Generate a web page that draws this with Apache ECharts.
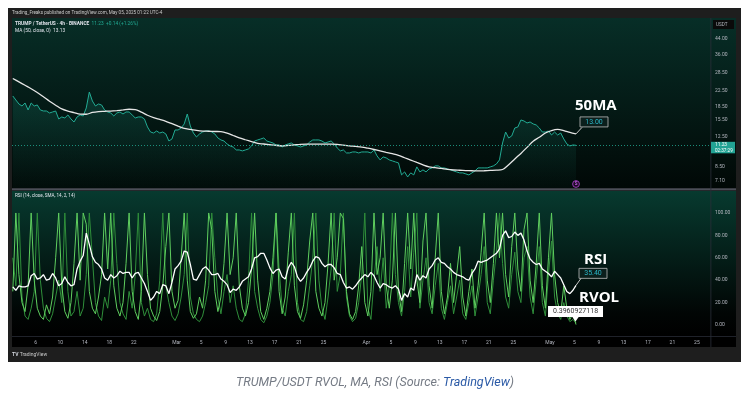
<!DOCTYPE html>
<html><head><meta charset="utf-8">
<script src="https://cdn.jsdelivr.net/npm/echarts@6/dist/echarts.min.js"></script>
<style>html,body{margin:0;padding:0;background:#fff}#c{width:751px;height:395px}</style>
</head><body><div id="c"></div>
<script>
// ---- data (4h chart, sampled every 12h; x = days after 2025-02-01 00:00 UTC) ----
const startDay = 1.25;
const stepDay = 0.5;
const maStepDay = 1;
const priceValues = [21.16,20.10,19.09,18.61,19.34,17.68,19.34,18.61,18.85,17.68,
17.45,17.45,17.01,17.23,17.45,15.75,16.16,15.95,16.58,15.75,
15.15,16.16,16.58,16.37,18.14,22.27,19.84,18.61,19.09,18.85,
17.68,17.23,17.01,16.37,17.01,17.23,16.79,17.23,17.23,16.58,
15.95,16.16,16.16,15.75,14.21,13.32,13.15,13.50,13.15,13.32,
12.99,11.87,12.18,13.67,13.67,14.03,14.77,16.79,14.39,13.15,
12.50,12.99,13.32,13.50,13.50,13.32,12.99,12.34,12.03,11.87,
11.43,11.14,10.99,10.58,10.58,10.45,10.58,10.72,11.14,11.87,
12.03,12.18,12.34,11.87,11.72,11.57,11.28,11.28,10.99,11.28,
11.43,11.57,11.28,11.14,10.99,11.14,11.28,11.72,12.03,12.03,
12.03,11.87,11.57,11.72,11.87,11.43,10.85,10.45,10.58,10.18,
10.18,10.31,10.31,10.18,10.31,10.31,10.31,10.18,10.58,9.80,
9.31,9.67,9.55,9.31,9.19,9.07,8.96,7.68,7.98,7.48,
7.88,7.68,8.51,7.98,8.19,7.98,8.29,8.40,8.62,8.62,
8.40,8.40,8.29,8.19,8.08,7.98,7.88,7.88,7.78,7.68,
7.88,8.08,8.40,8.40,8.40,8.40,8.51,8.62,8.84,9.31,
11.57,13.32,12.34,12.66,14.03,14.21,15.55,15.35,14.96,15.15,
14.77,14.58,14.03,13.32,13.32,13.50,12.82,13.32,12.82,13.15,
12.18,11.43,11.14,11.28,11.23];
const ma50Values = [26.49,25.36,24.27,23.23,22.13,20.94,19.77,18.80,17.91,17.43,
17.08,16.75,16.73,17.12,17.32,17.38,17.43,17.54,17.68,17.84,
17.77,17.19,16.52,16.01,15.65,15.29,14.83,14.37,13.94,13.78,
13.60,13.48,13.45,13.41,13.39,13.15,12.74,12.36,12.06,11.78,
11.51,11.42,11.31,11.21,11.15,11.21,11.29,11.37,11.39,11.39,
11.39,11.39,11.39,11.36,11.25,11.15,11.07,10.98,10.82,10.64,
10.45,10.26,10.08,9.87,9.57,9.29,9.01,8.74,8.52,8.42,
8.34,8.24,8.18,8.15,8.12,8.10,8.08,8.10,8.13,8.16,
8.23,8.76,9.43,10.12,10.94,11.83,12.45,13.15,13.58,13.78,
13.58,13.26,13.00];
const rsiValues = [34,31,35,34,34,35,44,46,41,42,
45,40,41,46,42,35,37,43,38,35,
36,50,57,62,82,72,61,56,54,50,
42,40,45,42,44,48,46,47,47,42,
46,47,42,37,30,22,25,30,28,36,
35,28,38,50,53,57,66,65,54,41,
40,45,50,52,49,45,45,46,41,39,
36,29,32,31,34,39,41,43,50,60,
61,64,64,58,51,46,49,50,43,41,
51,56,52,43,39,42,47,51,57,61,
60,55,52,54,54,51,46,45,38,33,
34,32,35,39,42,45,43,47,44,38,
33,37,36,34,33,35,32,22,28,25,
33,31,45,40,44,42,50,53,58,60,
56,55,52,50,47,45,44,43,41,40,
46,50,57,56,57,58,60,62,64,68,
80,84,78,79,83,80,82,76,66,59,
56,54,55,50,48,46,43,48,45,42,
36,30,28,31,35.40];
const rvolValues = [30,100,45,20,12,35,100,40,15,8,
5,18,10,25,60,100,35,12,6,20,
55,100,40,100,90,30,15,10,25,45,
100,50,100,35,15,8,20,55,100,30,
12,5,30,100,45,15,8,4,12,35,
70,100,30,15,22,60,100,40,12,6,
10,25,15,40,100,85,30,12,25,55,
100,45,60,100,35,15,8,20,50,100,
40,12,5,15,30,60,100,30,10,25,
65,100,35,12,6,18,40,75,100,30,
15,8,20,55,100,40,60,100,95,30,
10,5,12,35,70,20,8,30,100,45,
60,100,35,15,40,100,30,12,55,100,
50,100,40,20,75,100,35,15,60,100,
30,10,25,55,20,45,70,25,8,30,
50,15,35,65,100,40,20,55,100,60,
100,45,25,70,100,50,30,85,100,40,
20,55,100,35,15,60,100,45,20,10,
35,15,5,10,0.3960927118];
const rvolAltValues = [60,35,100,25,8,5,15,30,100,40,
15,6,3,10,25,40,20,100,30,8,
12,30,8,15,45,100,60,20,8,4,
25,15,40,100,55,20,10,5,30,15,
45,100,20,8,15,5,3,10,40,100,
35,20,8,4,10,25,45,100,25,10,
5,3,8,20,35,100,60,25,10,30,
45,20,35,15,5,3,10,40,100,30,
15,5,2,8,20,45,100,50,15,8,
30,45,100,20,5,3,12,35,60,100,
40,15,5,25,50,100,30,45,100,25,
8,3,6,20,45,100,15,5,40,70,
30,60,15,35,100,45,20,8,30,70,
25,65,100,15,40,60,20,10,35,55,
15,5,20,35,10,25,40,10,5,20,
35,8,25,45,70,20,10,40,65,100,
55,25,15,45,65,30,20,60,70,25,
10,40,70,20,8,45,75,25,10,5,
20,8,3,5,2];
const priceTicks = [7.10, 8.50, 12.50, 15.50, 18.50, 22.50, 28.50, 36.00, 44.00];
const rsiTicks = [0, 20, 40, 60, 80, 100];
const dateTicks = ['2025-02-06','2025-02-10','2025-02-14','2025-02-18','2025-02-22',
  '2025-03-01','2025-03-05','2025-03-09','2025-03-13','2025-03-17','2025-03-21','2025-03-25',
  '2025-04-01','2025-04-05','2025-04-09','2025-04-13','2025-04-17','2025-04-21','2025-04-25',
  '2025-05-01','2025-05-05','2025-05-09','2025-05-13','2025-05-17','2025-05-21','2025-05-25'];
const lastPrice = 11.23;
const maLabel = '13.00';
const rsiLabel = '35.40';
const rvolLabel = '0.3960927118';

// ---- helpers ----
const epoch = Date.UTC(2025, 1, 1);
const dayMs = 86400000;
const toDay = s => (Date.parse(s + 'T00:00:00Z') - epoch) / dayMs;
const pairs = (vals, step) => vals.map((v, i) => [startDay + i * step, v]);
const monthNames = ['Jan','Feb','Mar','Apr','May','Jun'];
function fmtDate(v) {
  const d = new Date(epoch + Math.round(v) * dayMs);
  return d.getUTCDate() === 1 ? monthNames[d.getUTCMonth()] : String(d.getUTCDate());
}
const xMin = 1.12, xMax = 115.3;
const axisTxt = '#b2b5be';
const SF = 'Roboto';

const chart = echarts.init(document.getElementById('c'), null, {width: 751, height: 395});
const hidden = {axisLine:{show:false}, axisTick:{show:false}, splitLine:{show:false}};
chart.setOption({
  animation: false,
  backgroundColor: '#ffffff',
  grid: [
    {left: 12, right: 40, top: 18, height: 170},
    {left: 12, right: 40, top: 191, height: 145}
  ],
  xAxis: [
    Object.assign({gridIndex: 0, type: 'value', min: xMin, max: xMax, axisLabel: {show: false}}, hidden),
    Object.assign({gridIndex: 1, type: 'value', min: xMin, max: xMax,
      axisLabel: {customValues: dateTicks.map(toDay), formatter: fmtDate, color: axisTxt,
        fontSize: 5, fontFamily: SF, margin: 4}}, hidden)
  ],
  yAxis: [
    Object.assign({gridIndex: 0, type: 'log', position: 'right', min: 6.49, max: 57.6,
      axisLabel: {customValues: priceTicks, formatter: v => Number(v).toFixed(2), color: axisTxt,
        fontSize: 5, fontFamily: SF, margin: 4, align: 'left'}}, hidden),
    Object.assign({gridIndex: 1, type: 'value', position: 'right', min: -9.8, max: 119.6,
      axisLabel: {customValues: rsiTicks, formatter: v => Number(v).toFixed(2), color: axisTxt,
        fontSize: 5, fontFamily: SF, margin: 4, align: 'left'}}, hidden)
  ],
  series: [
    {name: 'TRUMP/USDT', type: 'line', xAxisIndex: 0, yAxisIndex: 0, showSymbol: false,
      data: pairs(priceValues, stepDay), lineStyle: {color: '#22ab94', width: 1},
      areaStyle: {origin: 'start', color: new echarts.graphic.LinearGradient(0, 0, 0, 1, [
        {offset: 0, color: 'rgba(34,171,148,0.28)'}, {offset: 1, color: 'rgba(34,171,148,0.04)'}])},
      markLine: {silent: true, symbol: 'none', animation: false, label: {show: false},
        lineStyle: {color: '#22ab94', type: [1, 2], width: 0.8}, data: [{yAxis: lastPrice}]}},
    {name: 'MA 50', type: 'line', xAxisIndex: 0, yAxisIndex: 0, showSymbol: false, smooth: 0.3,
      data: pairs(ma50Values, maStepDay), lineStyle: {color: '#e6e6e6', width: 1.3}},
    {name: 'RVOL 2', type: 'line', xAxisIndex: 1, yAxisIndex: 1, showSymbol: false,
      data: pairs(rvolAltValues, stepDay), lineStyle: {color: '#2f8f3a', width: 1}},
    {name: 'RVOL', type: 'line', xAxisIndex: 1, yAxisIndex: 1, showSymbol: false,
      data: pairs(rvolValues, stepDay), lineStyle: {color: '#5fcf5f', width: 1}},
    {name: 'RSI', type: 'line', xAxisIndex: 1, yAxisIndex: 1, showSymbol: false,
      data: pairs(rsiValues, stepDay), lineStyle: {color: '#ffffff', width: 1.3}}
  ]
});

// ---- decorations (screenshot frame, panel backgrounds, annotations) ----
const lastIdx = priceValues.length - 1;
const lastDay = startDay + lastIdx * stepDay;
const pMA = chart.convertToPixel({gridIndex: 0}, [startDay + (ma50Values.length - 1) * maStepDay, ma50Values[ma50Values.length - 1]]);
const pPrice = chart.convertToPixel({gridIndex: 0}, [lastDay, lastPrice]);
const pRSI = chart.convertToPixel({gridIndex: 1}, [lastDay, rsiValues[lastIdx]]);
const pRV = chart.convertToPixel({gridIndex: 1}, [lastDay, rvolValues[lastIdx]]);
const LG = stops => new echarts.graphic.LinearGradient(0, 0, 0, 1, stops);
const rect = (x, y, w, h, fill, z, extra) => Object.assign({type: 'rect', silent: true, z: z || 0,
  shape: {x, y, width: w, height: h}, style: {fill}}, extra || {});
const txt = (x, y, text, o) => ({type: 'text', silent: true, z: 60, x, y,
  style: Object.assign({text, fill: '#d1d4dc', fontSize: 5, fontFamily: SF, align: 'left', verticalAlign: 'middle'}, o || {})});

const g = [
  rect(8, 8, 733, 354, '#1e1e1e'),
  rect(12, 18, 724, 329, '#000000'),
  rect(12, 18, 724, 170, LG([{offset: 0, color: '#072e27'}, {offset: 1, color: '#010806'}])),
  rect(12, 191, 724, 145, LG([{offset: 0, color: '#073a2f'}, {offset: 0.85, color: '#010504'}, {offset: 1, color: '#000'}])),
  rect(12, 188.3, 724, 2.2, '#4b4e57'),
  rect(12, 336, 724, 0.8, '#2a2e39'),
  rect(710.5, 18, 0.8, 329, '#2a2e39'),
  // header
  txt(12, 13, 'Trading_Freaks published on TradingView.com, May 05, 2025 01:22 UTC-4', {fill: '#c8c8c8', fontSize: 4.6}),
  txt(15, 24, '{a|TRUMP / TetherUS · 4h · BINANCE}{b|  11.23  +0.14 (+1.26%)}', {rich: {
    a: {fill: '#e0e3eb', fontSize: 4.8, fontFamily: SF, fontWeight: 'bold'},
    b: {fill: '#22ab94', fontSize: 4.8, fontFamily: SF}}}),
  txt(15, 31, '{a|MA (50, close, 0)}{b|  13.13}', {rich: {
    a: {fill: '#e0e3eb', fontSize: 4.8, fontFamily: SF},
    b: {fill: '#e0e3eb', fontSize: 4.8, fontFamily: SF}}}),
  txt(15, 196, 'RSI (14, close, SMA, 14, 2, 14)', {fill: '#e0e3eb', fontSize: 4.6}),
  // axis unit + price tag
  rect(713, 20, 21, 9, '#0a0a0a', 55),
  txt(716, 24.5, 'USDT', {fill: axisTxt, fontSize: 4.6}),
  rect(711, pPrice[1] - 3.5, 24, 11.5, '#22a394', 55),
  txt(715, pPrice[1], lastPrice.toFixed(2), {fill: '#ffffff', fontSize: 4.8}),
  txt(715, pPrice[1] + 5.3, '02:37:29', {fill: '#ffffff', fontSize: 4.6}),
  // event marker
  {type: 'circle', silent: true, z: 55, shape: {cx: pPrice[0], cy: 184, r: 3.4},
    style: {fill: '#1b0b22', stroke: '#a43fc4', lineWidth: 0.9}},
  txt(pPrice[0], 184, 'S', {fill: '#c15be0', fontSize: 4.5, align: 'center', fontWeight: 'bold'}),
  // footer
  txt(12, 355, '{a|TV} {b|TradingView}', {rich: {
    a: {fill: '#d1d4dc', fontSize: 5, fontWeight: 'bold', fontFamily: SF},
    b: {fill: '#c8c8c8', fontSize: 5, fontFamily: SF}}}),
  // 50MA annotation
  txt(pMA[0] - 1, pMA[1] - 28, '50MA', {fill: '#ffffff', fontSize: 15, fontWeight: 'bold', fontFamily: 'Open Sans'}),
  {type: 'polyline', silent: true, z: 58, shape: {points: [[pMA[0], pMA[1]], [pMA[0] + 6, pMA[1] - 6.5]]},
    style: {stroke: '#c9c9c9', lineWidth: 1, fill: null}},
  rect(pMA[0] + 4, pMA[1] - 17, 28, 10, '#0b1f1c', 57, {style: {fill: '#0b1f1c', stroke: '#bdbdbd', lineWidth: 0.8}}),
  txt(pMA[0] + 18, pMA[1] - 12, maLabel, {fill: '#2bb6c7', fontSize: 7, align: 'center'}),
  // RSI annotation
  txt(pRSI[0] + 8, pRSI[1] - 26, 'RSI', {fill: '#ffffff', fontSize: 15, fontWeight: 'bold', fontFamily: 'Open Sans'}),
  {type: 'polyline', silent: true, z: 58, shape: {points: [[pRSI[0], pRSI[1]], [pRSI[0] + 5, pRSI[1] - 7]]},
    style: {stroke: '#c9c9c9', lineWidth: 1, fill: null}},
  rect(pRSI[0] + 3, pRSI[1] - 17, 28, 10, '#0b1f1c', 57, {style: {fill: '#0b1f1c', stroke: '#bdbdbd', lineWidth: 0.8}}),
  txt(pRSI[0] + 17, pRSI[1] - 12, rsiLabel, {fill: '#2bb6c7', fontSize: 7, align: 'center'}),
  // RVOL annotation
  txt(pRV[0] + 3, pRV[1] - 27, 'RVOL', {fill: '#ffffff', fontSize: 15, fontWeight: 'bold', fontFamily: 'Open Sans'}),
  rect(pRV[0] - 28, pRV[1] - 18.5, 55, 11, '#ffffff', 57),
  {type: 'polygon', silent: true, z: 57, shape: {points: [[pRV[0] - 4, pRV[1] - 8], [pRV[0] + 3, pRV[1] - 8], [pRV[0] - 0.5, pRV[1] - 3]]},
    style: {fill: '#ffffff'}},
  txt(pRV[0] - 0.5, pRV[1] - 13, rvolLabel, {fill: '#333333', fontSize: 7, align: 'center'}),
  // caption
  txt(375, 382.5, '{a|TRUMP/USDT RVOL, MA, RSI (Source: }{b|TradingView}{a|)}', {align: 'center', rich: {
    a: {fill: '#757b85', fontSize: 12.5, fontStyle: 'italic', fontFamily: 'Roboto'},
    b: {fill: '#2b5aa6', fontSize: 12.5, fontStyle: 'italic', fontFamily: 'Roboto'}}})
];
chart.setOption({graphic: {elements: g}});
</script>
</body></html>
